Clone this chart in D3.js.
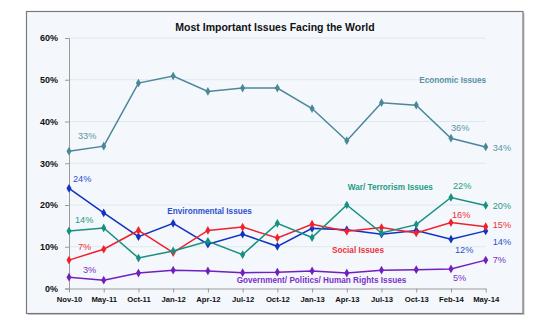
<!DOCTYPE html>
<html>
<head>
<meta charset="UTF-8">
<title>Most Important Issues Facing the World</title>
<script src="https://d3js.org/d3.v7.min.js"></script>
<style>
  body { margin: 0; background: #fff; }
  svg { display: block; font-family: "Liberation Sans", Arial, sans-serif; }
</style>
</head>
<body>
<svg id="chart" width="550" height="325"></svg>
<script>
// survey waves
var waves = ["Nov-10", "May-11", "Oct-11", "Jan-12", "Apr-12", "Jul-12", "Oct-12",
             "Jan-13", "Apr-13", "Jul-13", "Oct-13", "Feb-14", "May-14"];

// share of respondents naming each issue (%)
var economic      = [32.9, 34.1, 49.2, 50.9, 47.2, 48.0, 48.0, 43.1, 35.4, 44.5, 43.9, 36.0, 33.9];
var environmental = [24.0, 18.1, 12.4, 15.6, 10.6, 13.0, 10.1, 14.4, 14.1, 13.0, 13.9, 11.8, 13.8];
var social        = [6.8, 9.4, 13.9, 8.6, 13.9, 14.7, 12.1, 15.4, 13.7, 14.6, 13.3, 15.8, 14.8];
var war           = [13.8, 14.5, 7.3, 9.0, 11.3, 8.1, 15.6, 12.2, 20.0, 13.3, 15.3, 21.8, 19.9];
var government    = [2.7, 2.0, 3.7, 4.4, 4.2, 3.8, 3.9, 4.2, 3.7, 4.4, 4.5, 4.7, 6.8];

var yTicks = [0, 10, 20, 30, 40, 50, 60];

var series = [
  { name: "Economic Issues", values: economic, line: "#4a8799", text: "#5b93a7" },
  { name: "Environmental Issues", values: environmental, line: "#1232c0", text: "#2e50cf" },
  { name: "Social Issues", values: social, line: "#f2202c", text: "#f0303a" },
  { name: "War/ Terrorism Issues", values: war, line: "#16907f", text: "#1f9a88" },
  { name: "Government/ Politics/ Human Rights Issues", values: government, line: "#7020bf", text: "#7a30c8" }
];

var svg = d3.select("#chart");

// panel with a soft drop shadow
svg.append("rect")
  .attr("x", 28).attr("y", 13).attr("width", 496.5).attr("height", 302)
  .attr("fill", "#c4c4c4");
svg.append("rect")
  .attr("x", 26.5).attr("y", 11.5).attr("width", 496.5).attr("height", 302)
  .attr("fill", "#f4f8fc").attr("stroke", "#7a7a7a").attr("stroke-width", 1.2);

svg.append("text")
  .attr("x", 275).attr("y", 31)
  .attr("text-anchor", "middle")
  .attr("font-size", "10.5px").attr("font-weight", "bold").attr("fill", "#111")
  .text("Most Important Issues Facing the World");

var x = d3.scalePoint().domain(waves).range([69, 485.7]);
var y = d3.scaleLinear().domain([0, 60]).range([288.5, 38]);

// gridlines
svg.append("g")
  .selectAll("line")
  .data(yTicks.filter(function(d) { return d > 0; }))
  .enter().append("line")
  .attr("x1", 69).attr("x2", 485.7)
  .attr("y1", function(d) { return y(d); })
  .attr("y2", function(d) { return y(d); })
  .attr("stroke", "#dfe8ef").attr("stroke-width", 1);

// y axis
var yAxis = svg.append("g")
  .attr("transform", "translate(69,0)")
  .call(d3.axisLeft(y).tickValues(yTicks).tickSize(4).tickPadding(7)
    .tickFormat(function(d) { return d + "%"; }));
yAxis.select(".domain").attr("stroke", "#9a9a9a");
yAxis.selectAll(".tick line").attr("stroke", "#9a9a9a");
yAxis.selectAll("text")
  .attr("font-size", "9px").attr("font-weight", "bold").attr("fill", "#111")
  .attr("font-family", "Liberation Sans, Arial, sans-serif");

// x axis
var xAxis = svg.append("g")
  .attr("transform", "translate(0," + y(0) + ")")
  .call(d3.axisBottom(x).tickSize(4).tickSizeOuter(0).tickPadding(4));
xAxis.select(".domain").attr("stroke", "#9a9a9a");
xAxis.selectAll(".tick line").attr("stroke", "#9a9a9a");
xAxis.selectAll("text")
  .attr("font-size", "7.7px").attr("font-weight", "bold").attr("fill", "#111")
  .attr("font-family", "Liberation Sans, Arial, sans-serif");

var line = d3.line()
  .x(function(d, i) { return x(waves[i]); })
  .y(function(d) { return y(d); });

var diamond = d3.symbol().type(d3.symbolDiamond).size(22);

series.forEach(function(s) {
  svg.append("path")
    .datum(s.values)
    .attr("d", line)
    .attr("fill", "none")
    .attr("stroke", s.line)
    .attr("stroke-width", 1.5);

  svg.append("g")
    .selectAll("path")
    .data(s.values)
    .enter().append("path")
    .attr("d", diamond)
    .attr("transform", function(d, i) { return "translate(" + x(waves[i]) + "," + y(d) + ")"; })
    .attr("fill", s.line);
});

// value labels: series index, wave index, offset from the point
var valueLabels = [
  [0, 0, 9, -12], [1, 0, 4, -6], [3, 0, 6, -8], [2, 0, 9, -10], [4, 0, 14, -4],
  [0, 11, 0, -7], [3, 11, 2, -8], [2, 11, 1, -5], [1, 11, 4, 14], [4, 11, 2, 12],
  [0, 12, 7, 4], [3, 12, 7, 4], [2, 12, 7, 1], [1, 12, 7, 14], [4, 12, 7, 3]
];

svg.append("g")
  .selectAll("text")
  .data(valueLabels)
  .enter().append("text")
  .attr("x", function(d) { return x(waves[d[1]]) + d[2]; })
  .attr("y", function(d) { return y(series[d[0]].values[d[1]]) + d[3]; })
  .attr("font-size", "9.2px")
  .attr("fill", function(d) { return series[d[0]].text; })
  .text(function(d) { return Math.round(series[d[0]].values[d[1]]) + "%"; });

// series names placed near their lines
var nameLabels = [
  [0, "Oct-13", 3, 49.2],
  [1, "Jan-12", -6, 17.8],
  [2, "Jan-13", 20, 8.6],
  [3, "Apr-13", 1, 23.6],
  [4, "Jul-12", -6, 1.2]
];

svg.append("g")
  .selectAll("text")
  .data(nameLabels)
  .enter().append("text")
  .attr("x", function(d) { return x(d[1]) + d[2]; })
  .attr("y", function(d) { return y(d[3]); })
  .attr("font-size", "8.2px").attr("font-weight", "bold")
  .attr("fill", function(d) { return series[d[0]].text; })
  .text(function(d) { return series[d[0]].name; });
</script>
</body>
</html>
